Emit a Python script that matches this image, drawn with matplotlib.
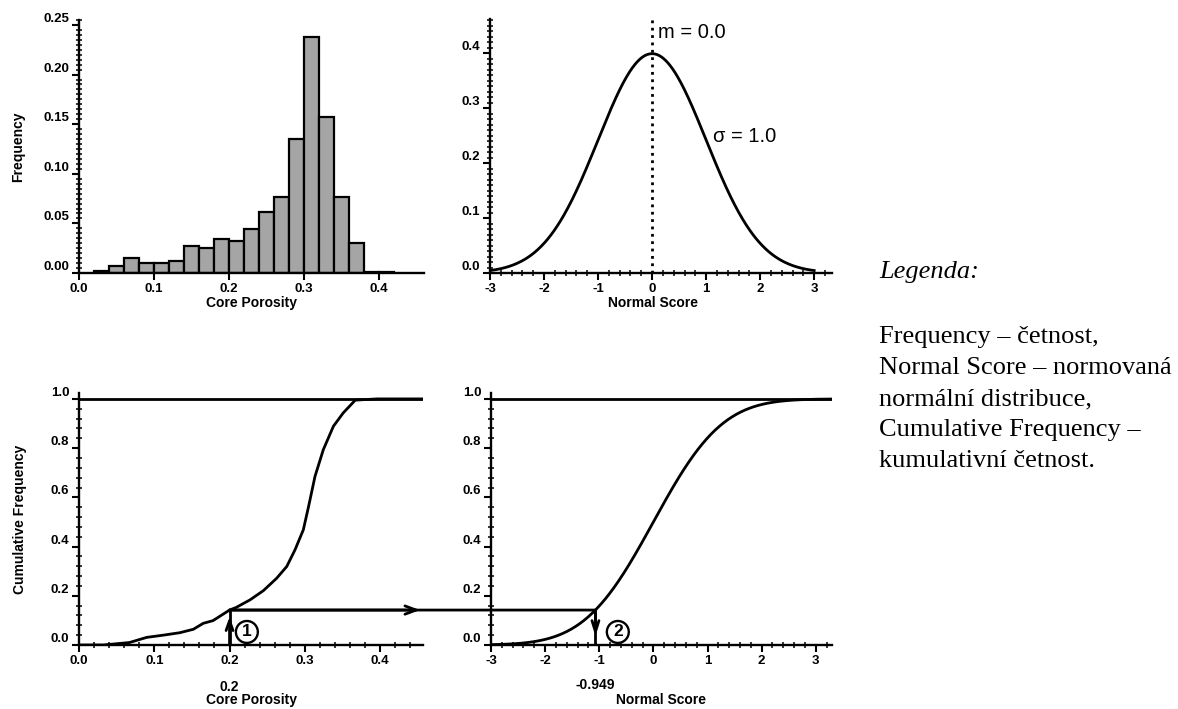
import math
import numpy as np
import matplotlib
matplotlib.use('Agg')
import matplotlib.pyplot as plt
from matplotlib.patches import ConnectionPatch
from matplotlib.ticker import MultipleLocator, FormatStrFormatter
import matplotlib.transforms as mtransforms

plt.rcParams['font.family'] = ['Liberation Sans', 'DejaVu Sans']
plt.rcParams['axes.unicode_minus'] = False

# histogram of core porosity (left edge of each 0.02 bin)
bin_left = [0.02, 0.04, 0.06, 0.08, 0.10, 0.12, 0.14, 0.16, 0.18, 0.20,
            0.22, 0.24, 0.26, 0.28, 0.30, 0.32, 0.34, 0.36, 0.38, 0.40]
bin_freq = [0.0025, 0.007, 0.015, 0.010, 0.010, 0.0125, 0.027, 0.025, 0.0345, 0.032,
            0.0445, 0.0615, 0.077, 0.1355, 0.238, 0.157, 0.077, 0.030, 0.001, 0.001]
bin_width = 0.02

# cumulative curve
cdf_poro = [0.0, 0.032, 0.067, 0.09, 0.112, 0.134, 0.152, 0.165, 0.178, 0.2,
            0.209, 0.227, 0.245, 0.2625, 0.276, 0.287, 0.298, 0.305, 0.3135,
            0.3246, 0.338, 0.351, 0.367, 0.396, 0.457]
cdf_freq = [0.0, 0.0, 0.01, 0.031, 0.04, 0.05, 0.064, 0.088, 0.099, 0.142,
            0.153, 0.183, 0.221, 0.271, 0.319, 0.387, 0.468, 0.563, 0.685,
            0.794, 0.889, 0.943, 0.995, 1.0, 1.0]

# standard normal given on the chart
norm_mean = 0.0
norm_sigma = 1.0

# the worked transform
poro_pick = 0.2
cum_pick = 0.142
ns_pick = -1.07
ns_label = '-0.949'

legend_title = 'Legenda:'
legend_lines = ['Frequency \u2013 \u010detnost,',
                'Normal Score \u2013 normovan\u00e1',
                'norm\u00e1ln\u00ed distribuce,',
                'Cumulative Frequency \u2013',
                'kumulativn\u00ed \u010detnost.']

W, H = 1178, 709


def px_axes(fig, left, right, top, bottom):
    return fig.add_axes([left / W, 1 - bottom / H, (right - left) / W, (bottom - top) / H])


def style_axis(ax, xmaj, xmin, ymaj, ymin, xfmt, yfmt):
    for s in ['top', 'right']:
        ax.spines[s].set_visible(False)
    for s in ['left', 'bottom']:
        ax.spines[s].set_linewidth(1.7)
    ax.xaxis.set_major_locator(MultipleLocator(xmaj))
    ax.yaxis.set_major_locator(MultipleLocator(ymaj))
    if xmin:
        ax.xaxis.set_minor_locator(MultipleLocator(xmin))
    ax.yaxis.set_minor_locator(MultipleLocator(ymin))
    ax.xaxis.set_major_formatter(FormatStrFormatter(xfmt))
    ax.yaxis.set_major_formatter(FormatStrFormatter(yfmt))
    ax.tick_params(which='major', direction='out', length=5, width=1.5, labelsize=9.5, pad=2)
    ax.tick_params(which='minor', direction='inout', length=4, width=1.1)
    for lab in ax.get_yticklabels() + ax.get_xticklabels():
        lab.set_fontweight('bold')
    for lab in ax.get_yticklabels():
        lab.set_va('bottom')


def normal_pdf(x):
    return np.array([math.exp(-0.5 * ((v - norm_mean) / norm_sigma) ** 2) / (norm_sigma * math.sqrt(2 * math.pi)) for v in x])


def normal_cdf(x):
    return np.array([0.5 * (1 + math.erf((v - norm_mean) / (norm_sigma * math.sqrt(2)))) for v in x])


fig = plt.figure(figsize=(W / 100, H / 100), dpi=100)

# top left: histogram
ax1 = px_axes(fig, 79, 424, 20, 273)
ax1.bar(bin_left, bin_freq, width=bin_width, align='edge', color='#a5a5a5',
        edgecolor='black', linewidth=1.6)
ax1.set_xlim(0, 0.46)
ax1.set_ylim(0, 0.255)
style_axis(ax1, 0.1, None, 0.05, 0.005, '%.1f', '%.2f')
ax1.set_xlabel('Core Porosity', fontsize=10, fontweight='bold')
ax1.set_ylabel('Frequency', fontsize=10, fontweight='bold')
ax1.xaxis.set_label_coords(0.5, -0.09)
ax1.yaxis.set_label_coords(-0.155, 0.5)

# top right: normal pdf
ax2 = px_axes(fig, 490, 832, 19, 273)
xs = np.linspace(-3, 3, 400)
ax2.plot(xs, normal_pdf(xs), color='black', lw=2)
ax2.axvline(norm_mean, color='black', ls=':', lw=2)
ax2.set_xlim(-3, 3.33)
ax2.set_ylim(0, 0.462)
style_axis(ax2, 1, 0.2, 0.1, 0.01, '%d', '%.1f')
ax2.text(0.11, 0.437, 'm = 0.0', fontsize=14.5, va='center')
ax2.text(1.13, 0.248, '\u03c3 = 1.0', fontsize=14.5, va='center')
ax2.set_xlabel('Normal Score', fontsize=10, fontweight='bold')
ax2.xaxis.set_label_coords(0.477, -0.09)

# bottom left: cumulative core porosity
ax3 = px_axes(fig, 79, 423, 393, 645)
ax3.plot(cdf_poro, cdf_freq, color='black', lw=2)
ax3.axhline(1.0, color='black', lw=2)
ax3.set_xlim(0, 0.457)
ax3.set_ylim(0, 1.024)
style_axis(ax3, 0.1, 0.02, 0.2, 0.04, '%.1f', '%.1f')
ax3.set_ylabel('Cumulative Frequency', fontsize=10, fontweight='bold')
ax3.yaxis.set_label_coords(-0.15, 0.5)
tr3 = mtransforms.blended_transform_factory(ax3.transData, ax3.transAxes)
ax3.text(poro_pick, -0.167, '%.1f' % poro_pick, transform=tr3, ha='center', va='center',
         fontsize=10, fontweight='bold')
ax3.text(0.5, -0.22, 'Core Porosity', transform=ax3.transAxes, ha='center', va='center',
         fontsize=10, fontweight='bold')
ax3.plot([poro_pick, poro_pick], [0, cum_pick], color='black', lw=2)
ax3.annotate('', xy=(poro_pick, 0.115), xytext=(poro_pick, 0.0),
             arrowprops=dict(arrowstyle='->,head_length=0.7,head_width=0.25', lw=2,
                             shrinkA=0, shrinkB=0))
ax3.annotate('', xy=(0.453, cum_pick), xytext=(poro_pick, cum_pick),
             arrowprops=dict(arrowstyle='->,head_length=0.8,head_width=0.3', lw=2,
                             shrinkA=0, shrinkB=0), annotation_clip=False)
ax3.text(0.223, 0.053, '1', fontsize=12.5, fontweight='bold', ha='center', va='center',
         bbox=dict(boxstyle='circle,pad=0.2', fc='white', ec='black', lw=1.7))

# bottom right: cumulative normal
ax4 = px_axes(fig, 491, 832, 393, 645)
xs2 = np.linspace(-3, 3.3, 400)
ax4.plot(xs2, normal_cdf(xs2), color='black', lw=2)
ax4.axhline(1.0, color='black', lw=2)
ax4.set_xlim(-3, 3.3)
ax4.set_ylim(0, 1.024)
style_axis(ax4, 1, 0.2, 0.2, 0.04, '%d', '%.1f')
tr4 = mtransforms.blended_transform_factory(ax4.transData, ax4.transAxes)
ax4.text(ns_pick, -0.16, ns_label, transform=tr4, ha='center', va='center',
         fontsize=10, fontweight='bold')
ax4.text(0.5, -0.22, 'Normal Score', transform=ax4.transAxes, ha='center', va='center',
         fontsize=10, fontweight='bold')
ax4.plot([ns_pick, ns_pick], [0, cum_pick], color='black', lw=2)
ax4.annotate('', xy=(ns_pick, 0.035), xytext=(ns_pick, cum_pick),
             arrowprops=dict(arrowstyle='->,head_length=0.8,head_width=0.25', lw=2,
                             shrinkA=0, shrinkB=0))
ax4.text(-0.657, 0.053, '2', fontsize=12.5, fontweight='bold', ha='center', va='center',
         bbox=dict(boxstyle='circle,pad=0.2', fc='white', ec='black', lw=1.7))

# transfer line between the two cumulative panels
con = ConnectionPatch(xyA=(poro_pick, cum_pick), coordsA=ax3.transData,
                      xyB=(ns_pick, cum_pick), coordsB=ax4.transData,
                      color='black', lw=2)
fig.add_artist(con)

# legend text, one baseline per line
fig.text(879 / W, 1 - 278 / H, legend_title, family='Liberation Serif', style='italic',
         fontsize=19, va='baseline')
for i, line in enumerate(legend_lines):
    fig.text(879 / W, 1 - (343 + 31 * i) / H, line, family='Liberation Serif',
             fontsize=19, va='baseline')

fig.savefig('out.png', dpi=100)
